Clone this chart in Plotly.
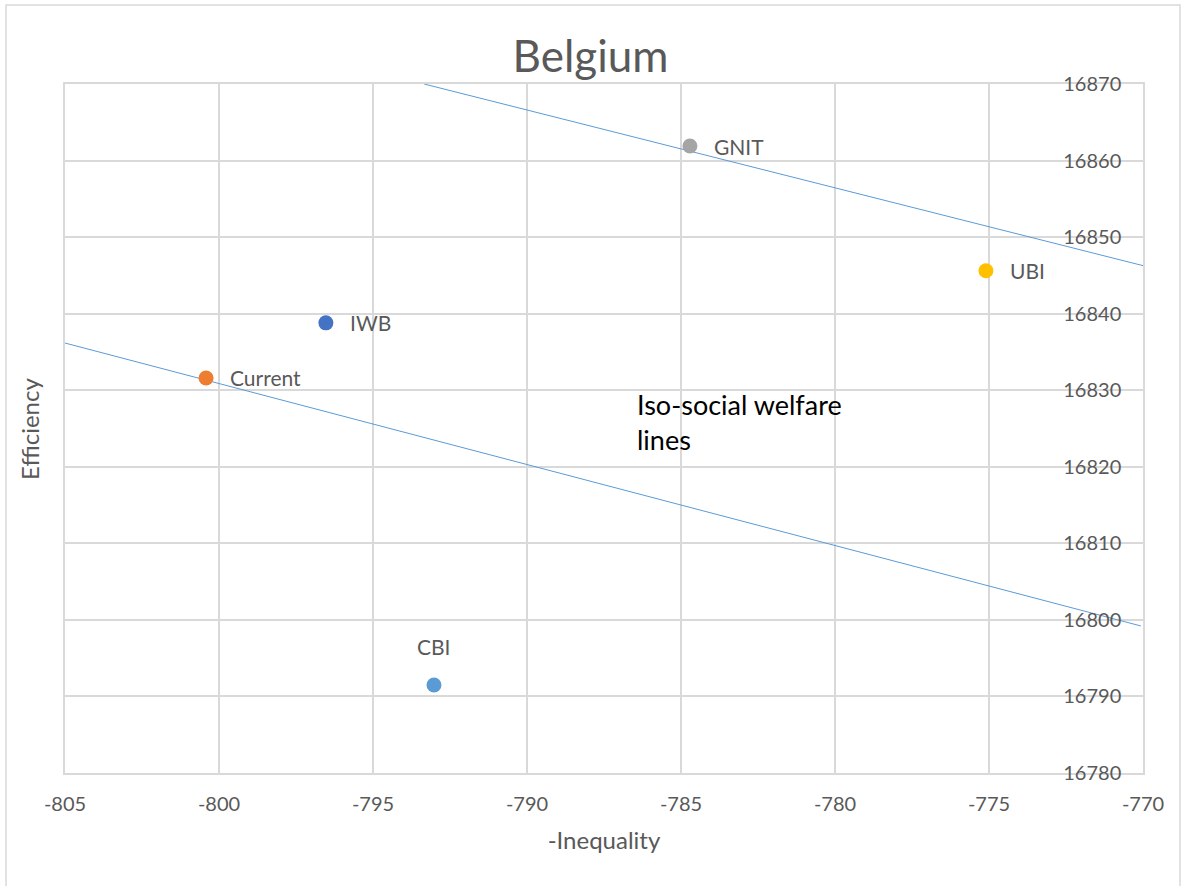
import plotly.graph_objects as go

# Data
names = ["Current", "IWB", "GNIT", "UBI", "CBI"]
neg_inequality = [-800.42, -796.53, -784.71, -775.10, -793.02]
efficiency = [16831.6, 16838.8, 16861.9, 16845.6, 16791.5]
colors = ["#ED7D31", "#4472C4", "#A5A5A5", "#FFC000", "#5B9BD5"]

# Iso-social welfare lines (endpoints)
upper_line_x = [-793.34, -769.87]
upper_line_y = [16870.0, 16846.14]
lower_line_x = [-805.13, -770.07]
lower_line_y = [16836.30, 16799.21]

x_ticks = [-805, -800, -795, -790, -785, -780, -775, -770]
y_ticks = [16780, 16790, 16800, 16810, 16820, 16830, 16840, 16850, 16860, 16870]

FONT = "Lato"
GREY = "#595959"
GRID = "#D9D9D9"

fig = go.Figure()

for lx, ly in [(upper_line_x, upper_line_y), (lower_line_x, lower_line_y)]:
    fig.add_trace(go.Scatter(x=lx, y=ly, mode="lines",
                             line=dict(color="#5B9BD5", width=1),
                             showlegend=False, hoverinfo="skip"))

for n, xv, yv, c in zip(names, neg_inequality, efficiency, colors):
    fig.add_trace(go.Scatter(x=[xv], y=[yv], mode="markers", name=n,
                             marker=dict(color=c, size=15),
                             showlegend=False))
    if n == "CBI":
        fig.add_annotation(x=xv, y=yv, text=n, showarrow=False,
                           xanchor="center", yanchor="middle", yshift=38,
                           font=dict(family=FONT, size=21, color=GREY))
    else:
        fig.add_annotation(x=xv, y=yv, text=n, showarrow=False,
                           xanchor="left", yanchor="middle", xshift=22,
                           font=dict(family=FONT, size=21, color=GREY))

fig.add_annotation(x=-786.5, y=16830.6, text="Iso-social welfare<br>lines",
                   showarrow=False, xanchor="left", yanchor="top", align="left",
                   font=dict(family=FONT, size=27, color="#000000"))

# y-axis title on the left
fig.add_annotation(xref="paper", yref="paper", x=-0.033, y=0.5,
                   text="Efficiency", textangle=-90, showarrow=False,
                   xanchor="center", yanchor="middle",
                   font=dict(family=FONT, size=24, color=GREY))

# outer chart border
fig.add_shape(type="rect", xref="paper", yref="paper",
              x0=-0.0547, x1=1.0343, y0=-0.165, y1=1.1147,
              line=dict(color=GRID, width=1.5), layer="below")

fig.update_layout(
    width=1181, height=886,
    margin=dict(l=65, r=38, t=84, b=113),
    paper_bgcolor="white", plot_bgcolor="white",
    title=dict(text="Belgium", x=0.5, xanchor="center",
               y=1 - 57 / 886, yanchor="middle", yref="container",
               font=dict(family=FONT, size=44, color=GREY)),
    font=dict(family=FONT, color=GREY),
)

fig.update_xaxes(range=[-805, -770], tickvals=x_ticks, ticktext=[str(v) for v in x_ticks],
                 showgrid=True, gridcolor=GRID, gridwidth=1.5, zeroline=False,
                 showline=True, mirror=True, linecolor=GRID, linewidth=1.5,
                 ticks="", ticklabelstandoff=12, ticklabeloverflow="allow",
                 tickfont=dict(family=FONT, size=20, color=GREY),
                 title=dict(text="-Inequality", standoff=18,
                            font=dict(family=FONT, size=24, color=GREY)))

fig.update_yaxes(range=[16780, 16870], tickvals=y_ticks, ticktext=[str(v) for v in y_ticks],
                 side="right", ticklabelposition="inside", ticklabeloverflow="allow",
                 showgrid=True, gridcolor=GRID, gridwidth=1.5, zeroline=False,
                 showline=True, mirror=True, linecolor=GRID, linewidth=1.5,
                 ticks="", ticklabelstandoff=23,
                 tickfont=dict(family=FONT, size=20, color=GREY))

fig.write_html("out.html", config={"displayModeBar": False},
               post_script="document.body.style.margin='0';document.body.style.padding='0';")
